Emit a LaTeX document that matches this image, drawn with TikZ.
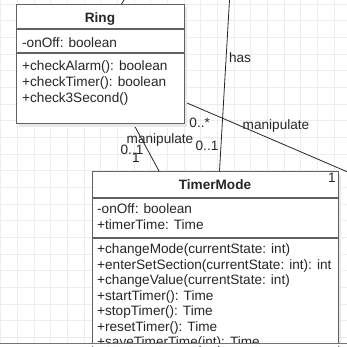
\documentclass[tikz,border=0pt]{standalone}
\usepackage{fontspec}
\setmainfont{Liberation Sans}
\begin{document}
\begin{tikzpicture}[x=1pt,y=-1pt,
  gridline/.style={draw=black!7, line width=0.8pt},
  umlbox/.style={draw=black!62, line width=1.1pt, fill=white, inner sep=0pt, anchor=north west},
  divider/.style={draw=black!62, line width=1.1pt},
  shadowbox/.style={fill=black!9},
  conn/.style={draw=black!85, line width=0.8pt},
  txt/.style={font=\fontsize{13.6}{16}\selectfont, text=black!85, inner sep=0pt, anchor=base west},
  ttl/.style={font=\fontsize{13.6}{16}\selectfont\bfseries, text=black!85, inner sep=0pt, anchor=base},
  lbl/.style={font=\fontsize{13.6}{16}\selectfont, text=black!85, inner sep=0pt, anchor=base}]
\useasboundingbox (0,0) rectangle (347,346);
\clip (0,0) rectangle (347,346);
\fill[white] (0,0) rectangle (347,346);
% grid
\foreach \i in {-1,...,20} {
  \draw[gridline] ({17.5+16.67*\i},0) -- ++(0,346);
  \draw[gridline] (0,{4+16.67*\i}) -- ++(347,0);
}
% connector end points
\coordinate (topIn) at (124,0);
\coordinate (ringTop) at (121.5,4);
\coordinate (hasTop) at (229.5,0);
\coordinate (timerHas) at (219.5,171);
\coordinate (ringRight) at (184,101.7);
\coordinate (offRight) at (347,171.7);
\coordinate (ringBot) at (133,123);
\coordinate (timerManip) at (159,171);
% connectors
\draw[conn] (topIn) -- (ringTop);
\draw[conn] (hasTop) -- (timerHas);
\draw[conn] (ringRight) -- (offRight);
\draw[conn] (ringBot) -- (timerManip);
% shadows
\fill[shadowbox] (19,7) rectangle (187,127);
\fill[shadowbox] (95,174) rectangle (341,360);
% Ring box
\node[umlbox, minimum width=168pt, minimum height=119pt] (ring) at (16,4) {};
\draw[divider] (16,29) -- (184,29);
\draw[divider] (16,53) -- (184,53);
\node[ttl] (ringT) at (100,22) {Ring};
\node[txt] (ringA1) at (22,47) {-onOff: boolean};
\node[txt] (ringM1) at (22,70) {+checkAlarm(): boolean};
\node[txt] (ringM2) at (22,86) {+checkTimer(): boolean};
\node[txt] (ringM3) at (22,102) {+check3Second()};
% TimerMode box
\node[umlbox, minimum width=246pt, minimum height=190pt] (timer) at (92,171) {};
\draw[divider] (92,198) -- (338,198);
\draw[divider] (92,238) -- (338,238);
\node[ttl] (timerT) at (215,189) {TimerMode};
\node[txt] (tA1) at (97,213) {-onOff: boolean};
\node[txt] (tA2) at (97,229) {+timerTime: Time};
\node[txt] (tM1) at (97,253.5) {+changeMode(currentState: int)};
\node[txt] (tM2) at (97,269) {+enterSetSection(currentState: int): int};
\node[txt] (tM3) at (97,284.5) {+changeValue(currentState: int)};
\node[txt] (tM4) at (97,300) {+startTimer(): Time};
\node[txt] (tM5) at (97,315.5) {+stopTimer(): Time};
\node[txt] (tM6) at (97,331) {+resetTimer(): Time};
\node[txt] (tM7) at (97,346.5) {+saveTimerTime(int): Time};
% bottom edge of the capture
\fill[white] (0,343.5) rectangle (347,346);
\draw[draw=black!55, line width=0.8pt] (0,343.5) -- (347,343.5);
% labels
\node[lbl] (lHas) at (240,62) {has};
\node[lbl] (lHasM) at (207,150) {0..1};
\node[lbl] (lManip1) at (276,129) {manipulate};
\node[lbl] (lStar) at (199.7,127) {0..*};
\node[lbl] (lOne1) at (332,182) {1};
\node[lbl] (lManip2) at (160,143) {manipulate};
\node[lbl] (lZeroOne) at (132,154) {0..1};
\node[lbl] (lOne2) at (136,162) {1};
\end{tikzpicture}
\end{document}
